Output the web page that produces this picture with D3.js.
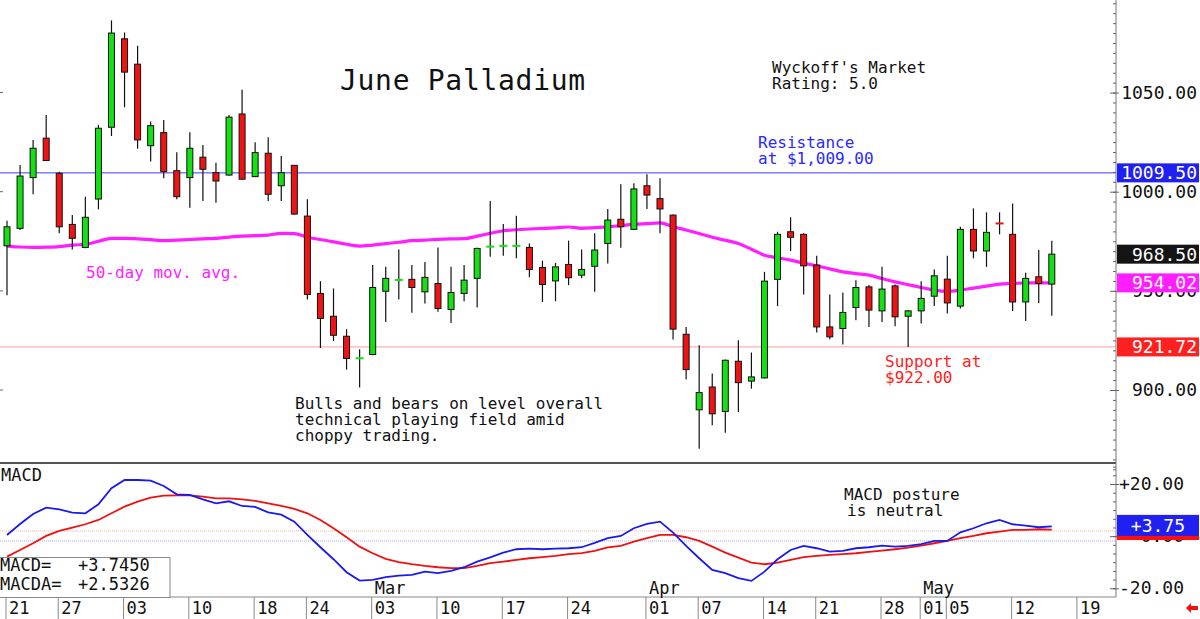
<!DOCTYPE html>
<html>
<head>
<meta charset="utf-8">
<script src="https://cdn.jsdelivr.net/npm/d3@7"></script>
<style>
    body { margin: 0; background: #fff; }
    text { font-family: "DejaVu Sans Mono", monospace; }
</style>
</head>
<body>
<div id="chart"></div>
<script>

// trading days shown on the chart
const dates = [
    "2025-01-21","2025-01-22","2025-01-23","2025-01-24","2025-01-27","2025-01-28","2025-01-29","2025-01-30","2025-01-31",
    "2025-02-03","2025-02-04","2025-02-05","2025-02-06","2025-02-07","2025-02-10","2025-02-11","2025-02-12","2025-02-13","2025-02-14",
    "2025-02-18","2025-02-19","2025-02-20","2025-02-21","2025-02-24","2025-02-25","2025-02-26","2025-02-27","2025-02-28",
    "2025-03-03","2025-03-04","2025-03-05","2025-03-06","2025-03-07","2025-03-10","2025-03-11","2025-03-12","2025-03-13","2025-03-14",
    "2025-03-17","2025-03-18","2025-03-19","2025-03-20","2025-03-21","2025-03-24","2025-03-25","2025-03-26","2025-03-27","2025-03-28",
    "2025-03-31","2025-04-01","2025-04-02","2025-04-03","2025-04-04","2025-04-07","2025-04-08","2025-04-09","2025-04-10","2025-04-11",
    "2025-04-14","2025-04-15","2025-04-16","2025-04-17","2025-04-21","2025-04-22","2025-04-23","2025-04-24","2025-04-25",
    "2025-04-28","2025-04-29","2025-04-30","2025-05-01","2025-05-02","2025-05-05","2025-05-06","2025-05-07","2025-05-08","2025-05-09",
    "2025-05-12","2025-05-13","2025-05-14","2025-05-15"
];
const futureDates = ["2025-05-16", "2025-05-19"];

const opens = [972.7,981.5,1007.1,1027.0,1009.3,983.5,971.9,996.3,1032.5,1077.1,1064.3,1023.2,1029.8,1010.6,1007.1,1017.4,1009.6,1008.4,1039.2,1007.6,
    1019.4,1003.0,1013.3,987.7,948.7,937.2,927.1,915.8,917.9,949.8,955.3,955.8,949.5,953.7,940.6,948.7,956.3,972.1,972.5,972.5,
    971.9,961.8,955.0,963.3,957.9,962.4,973.9,986.1,981.0,1003.0,996.5,988.2,928.1,890.0,901.5,889.2,914.5,904.5,906.1,955.8,
    979.8,978.5,963.0,931.8,931.0,941.6,952.0,939.9,952.5,937.2,939.9,947.3,955.9,942.3,981.0,970.1,984.2,978.5,944.4,957.1,953.4];
const highs = [985.4,1013.5,1026.1,1038.7,1010.1,988.2,997.5,1033.7,1086.4,1080.3,1073.6,1035.4,1036.2,1019.9,1030.0,1023.6,1014.6,1038.7,1051.4,1024.9,
    1027.5,1018.0,1013.5,996.2,954.9,951.2,930.7,920.6,963.0,962.1,970.9,963.0,964.6,971.9,962.1,963.0,971.7,995.3,983.7,987.9,
    973.9,965.2,964.1,975.3,970.9,979.0,991.3,1003.7,1004.2,1008.8,1006.8,988.5,931.8,922.6,908.3,915.4,925.1,918.9,959.6,979.8,
    987.1,979.0,967.7,948.2,949.2,955.4,952.9,962.1,953.2,940.3,954.9,960.8,967.7,982.3,991.6,989.6,989.6,994.1,959.1,970.6,975.3];
const lows = [947.8,980.7,998.7,1015.5,979.0,970.9,971.5,991.1,1028.1,1042.6,1021.6,1015.2,1006.8,996.2,991.9,995.3,994.4,1008.0,1006.0,1007.4,
    995.3,995.3,988.5,945.6,921.2,924.7,910.3,901.2,917.5,934.3,945.6,938.9,943.6,939.4,933.8,944.8,941.6,967.2,967.7,966.4,
    956.8,944.4,944.8,952.9,956.3,949.5,963.8,971.7,980.8,991.3,979.0,925.5,905.3,870.4,882.2,878.5,888.9,900.7,905.8,942.3,
    970.1,948.2,929.0,925.6,922.9,935.2,931.8,934.3,932.2,921.7,933.5,942.3,938.6,941.1,966.4,962.1,978.5,939.9,934.8,943.9,937.4];
const closes = [982.3,1007.9,1021.9,1015.7,982.3,976.5,987.1,1032.0,1080.0,1060.3,1026.1,1033.3,1010.1,997.5,1021.9,1011.3,1005.4,1037.6,1006.3,1019.7,
    998.7,1009.6,988.7,948.2,936.1,927.6,915.9,916.0,951.7,956.3,955.5,951.7,956.8,941.1,949.2,955.4,971.4,972.3,972.7,972.7,
    960.8,953.2,962.1,956.6,960.8,970.6,985.7,982.3,1001.4,998.3,991.3,930.7,910.3,898.7,888.0,915.0,903.7,906.6,954.9,978.5,
    977.0,962.6,931.8,926.8,939.1,951.7,940.3,950.9,936.9,939.9,946.2,957.6,943.9,981.0,970.1,979.5,984.0,944.4,956.3,953.7,968.5];

// 50-day moving average
const ma50 = [972.6,972.1,971.9,972.0,972.3,973.1,973.4,975.0,976.5,976.5,976.2,975.8,975.3,975.6,975.9,976.2,976.5,977.1,977.6,977.8,
    978.1,979.0,978.9,977.0,975.9,974.7,973.5,972.6,973.1,973.8,974.5,975.3,975.6,976.0,976.2,976.3,977.6,979.0,980.3,980.8,
    981.2,981.5,981.8,982.2,981.5,981.9,982.3,982.9,983.5,983.9,984.3,982.3,980.7,978.9,977.0,975.5,973.9,971.0,968.0,966.7,
    965.5,964.0,962.6,961.1,959.6,958.7,957.9,956.2,954.5,953.1,951.7,950.4,949.8,950.4,951.4,952.4,953.4,953.7,954.0,954.0,954.02];

const macd = [0.46,4.67,8.51,10.92,10.31,9.00,8.77,12.22,18.35,21.53,21.53,21.26,19.23,16.05,15.79,14.14,12.61,13.37,11.57,11.19,
    9.16,8.24,5.56,0.46,-4.25,-8.85,-13.83,-17.05,-16.78,-15.75,-15.13,-14.87,-13.60,-14.21,-13.33,-11.92,-9.77,-8.16,-6.32,-5.02,
    -4.79,-5.02,-4.79,-4.64,-4.25,-2.61,-0.80,0.08,3.03,4.67,5.56,1.34,-3.75,-8.47,-12.95,-14.21,-16.13,-17.16,-13.60,-8.85,
    -5.29,-3.75,-4.64,-5.94,-5.67,-4.64,-4.25,-3.64,-4.02,-3.75,-3.10,-1.84,-1.84,1.49,3.03,4.94,6.21,4.56,4.02,3.41,3.745];
const macdSignal = [-7.85,-5.29,-2.72,0.08,1.99,3.26,4.56,6.21,8.77,11.30,13.22,14.75,15.52,15.67,15.67,15.13,14.52,14.52,14.14,13.49,
    12.61,11.57,10.42,8.77,6.21,3.03,-0.42,-4.02,-6.55,-8.74,-10.00,-10.77,-11.42,-11.92,-12.30,-12.30,-11.42,-10.38,-9.77,-9.12,
    -8.47,-8.08,-7.59,-6.93,-6.55,-5.67,-4.33,-3.75,-2.11,-0.80,0.46,0.46,-0.42,-1.84,-4.02,-6.32,-8.24,-10.15,-10.77,-10.15,
    -9.12,-8.08,-7.59,-7.20,-6.93,-6.55,-6.05,-5.56,-5.02,-4.41,-3.64,-2.72,-1.84,-0.80,0.08,1.11,1.72,2.38,2.38,2.64,2.5326];

const tickDates = ["2025-01-21","2025-01-27","2025-02-03","2025-02-10","2025-02-18","2025-02-24","2025-03-03","2025-03-10","2025-03-17",
    "2025-03-24","2025-04-01","2025-04-07","2025-04-14","2025-04-21","2025-04-28","2025-05-01","2025-05-05","2025-05-12","2025-05-19"];
const monthDates = ["2025-03-03","2025-04-01","2025-05-01"];
const monthNames = ["Mar","Apr","May"];

const priceTicks = [900, 950, 1000, 1050];
const macdTicks = [-20, 0, 20];

const resistance = 1009.5;
const support = 921.72;
const macdRefLines = [2.0, -1.84];

const W = 1200, H = 619;
const plotRight = 1116;
const panelSplit = 463, macdBottom = 597;

const svg = d3.select("#chart").append("svg")
    .attr("width", W).attr("height", H)
    .style("display", "block");

svg.append("rect").attr("width", W).attr("height", H).attr("fill", "#fff");

const x = d3.scalePoint()
    .domain(dates.concat(futureDates))
    .range([7, 7 + 82 * 13.06]);

const y = d3.scaleLinear().domain([900, 1000]).range([390, 191.7]);
const ym = d3.scaleLinear().domain([-20, 20]).range([588.3, 484]);

const candles = dates.map((d, i) => ({date: d, o: opens[i], h: highs[i], l: lows[i], c: closes[i]}));

svg.append("clipPath").attr("id", "clipTop")
    .append("rect").attr("x", 0).attr("y", 0).attr("width", plotRight).attr("height", panelSplit);
svg.append("clipPath").attr("id", "clipMacd")
    .append("rect").attr("x", 0).attr("y", panelSplit + 1).attr("width", plotRight).attr("height", macdBottom - panelSplit - 1);

const priceG = svg.append("g").attr("clip-path", "url(#clipTop)");

// resistance / support lines
priceG.append("line")
    .attr("x1", 0).attr("x2", plotRight)
    .attr("y1", y(resistance)).attr("y2", y(resistance))
    .attr("stroke", "#3c3cff").attr("stroke-width", 1);
priceG.append("line")
    .attr("x1", 0).attr("x2", plotRight)
    .attr("y1", y(support)).attr("y2", y(support))
    .attr("stroke", "#ffb0b0").attr("stroke-width", 1.2);

// left edge ticks
svg.selectAll(".leftTick").data(priceTicks).join("line")
    .attr("class", "leftTick")
    .attr("x1", 0).attr("x2", 3)
    .attr("y1", d => y(d)).attr("y2", d => y(d))
    .attr("stroke", "#666");

// 50 day moving average
priceG.append("path")
    .datum(ma50)
    .attr("fill", "none")
    .attr("stroke", "#ff1eff")
    .attr("stroke-width", 3.2)
    .attr("d", d3.line().x((d, i) => x(dates[i])).y(d => y(d)).curve(d3.curveMonotoneX));

// candlesticks
const cg = priceG.selectAll(".candle").data(candles).join("g").attr("class", "candle");

cg.append("line")
    .attr("x1", d => x(d.date)).attr("x2", d => x(d.date))
    .attr("y1", d => y(d.h)).attr("y2", d => y(d.l))
    .attr("stroke", "#111").attr("stroke-width", 1.2);

cg.filter(d => Math.abs(d.c - d.o) >= 0.5).append("rect")
    .attr("x", d => x(d.date) - 3)
    .attr("width", 6)
    .attr("y", d => y(Math.max(d.o, d.c)))
    .attr("height", d => Math.max(1, y(Math.min(d.o, d.c)) - y(Math.max(d.o, d.c))))
    .attr("fill", d => d.c > d.o ? "#14e014" : "#ee1414")
    .attr("stroke", "#111").attr("stroke-width", 1);

cg.filter(d => Math.abs(d.c - d.o) < 0.5).append("line")
    .attr("x1", d => x(d.date) - 4).attr("x2", d => x(d.date) + 4)
    .attr("y1", d => y(d.c)).attr("y2", d => y(d.c))
    .attr("stroke", d => d.c >= d.o ? "#14e014" : "#ee1414")
    .attr("stroke-width", 2);

// MACD panel
const mg = svg.append("g").attr("clip-path", "url(#clipMacd)");

mg.selectAll(".refLine").data(macdRefLines).join("line")
    .attr("class", "refLine")
    .attr("x1", 0).attr("x2", plotRight)
    .attr("y1", d => ym(d)).attr("y2", d => ym(d))
    .attr("stroke", (d, i) => i == 0 ? "#ffaaaa" : "#aaaaff")
    .attr("stroke-width", 1)
    .attr("stroke-dasharray", "1,1");

const mline = d3.line().x((d, i) => x(dates[i])).y(d => ym(d));
mg.append("path").datum(macdSignal)
    .attr("fill", "none").attr("stroke", "#ee1111").attr("stroke-width", 1.8)
    .attr("d", mline);
mg.append("path").datum(macd)
    .attr("fill", "none").attr("stroke", "#1a1aee").attr("stroke-width", 1.8)
    .attr("d", mline);

// frame lines
svg.append("line")
    .attr("x1", 0).attr("x2", plotRight)
    .attr("y1", panelSplit).attr("y2", panelSplit)
    .attr("stroke", "#555").attr("stroke-width", 2);
svg.append("line")
    .attr("x1", plotRight).attr("x2", plotRight)
    .attr("y1", 0).attr("y2", macdBottom)
    .attr("stroke", "#777").attr("stroke-width", 1);
svg.append("line")
    .attr("x1", 0).attr("x2", plotRight)
    .attr("y1", macdBottom).attr("y2", macdBottom)
    .attr("stroke", "#888").attr("stroke-width", 1);

// right price axis ticks
const priceAxis = svg.append("g").attr("transform", "translate(" + plotRight + ",0)");
priceAxis.call(d3.axisRight(y).tickValues(d3.range(860, 1100, 5)).tickSize(-3).tickFormat(""));
priceAxis.call(g => g.select(".domain").remove());
priceAxis.selectAll("line").attr("stroke", "#666");
svg.append("g").attr("transform", "translate(" + plotRight + ",0)")
    .call(d3.axisRight(y).tickValues(priceTicks).tickSize(3).tickFormat(""))
    .call(g => g.select(".domain").remove())
    .selectAll("line").attr("stroke", "#666").attr("x1", -6);

svg.selectAll(".priceLabel").data(priceTicks).join("text")
    .attr("class", "priceLabel")
    .attr("x", 1197).attr("y", d => y(d) + 6)
    .attr("text-anchor", "end")
    .attr("font-size", 18)
    .attr("fill", "#111")
    .text(d => d3.format(".2f")(d));

// MACD axis ticks
const macdAxis = svg.append("g").attr("transform", "translate(" + plotRight + ",0)");
macdAxis.call(d3.axisRight(ym).tickValues(d3.range(-20, 27, 20 / 6)).tickSize(-3).tickFormat(""));
macdAxis.call(g => g.select(".domain").remove());
macdAxis.selectAll("line").attr("stroke", "#666");
svg.append("g").attr("transform", "translate(" + plotRight + ",0)")
    .call(d3.axisRight(ym).tickValues(macdTicks).tickSize(3).tickFormat(""))
    .call(g => g.select(".domain").remove())
    .selectAll("line").attr("stroke", "#666").attr("x1", -6);

svg.selectAll(".macdLabel").data(macdTicks).join("text")
    .attr("class", "macdLabel")
    .attr("x", 1184).attr("y", d => ym(d) + 6)
    .attr("text-anchor", "end")
    .attr("font-size", 18)
    .attr("fill", "#111")
    .text(d => (d > 0 ? "+" : d < 0 ? "-" : "") + d3.format(".2f")(Math.abs(d)));

// value tags on the right axis
function tag(yPos, bg, txt, xEnd, h) {
    svg.append("rect")
        .attr("x", plotRight + 1).attr("y", yPos - h / 2)
        .attr("width", W - plotRight - 2).attr("height", h)
        .attr("fill", bg);
    if (txt) {
        svg.append("text")
            .attr("x", xEnd).attr("y", yPos + 6.5)
            .attr("text-anchor", "end")
            .attr("font-size", 18)
            .attr("fill", "#fff")
            .text(txt);
    }
}
tag(y(resistance), "#2020f0", d3.format(".2f")(resistance), 1197, 19);
tag(y(closes[closes.length - 1]), "#141414", d3.format(".2f")(closes[closes.length - 1]), 1197, 19);
tag(y(ma50[ma50.length - 1]), "#ff1eff", d3.format(".2f")(ma50[ma50.length - 1]), 1197, 19);
tag(y(support), "#ff2020", d3.format(".2f")(support), 1197, 19);
tag(ym(macdSignal[macdSignal.length - 1]), "#ff1010", null, 1184, 21);
tag(ym(macd[macd.length - 1]) - 1, "#2020f0", "+" + d3.format(".2f")(macd[macd.length - 1]), 1185, 21);

// date axis
svg.selectAll(".dateSep").data(tickDates).join("line")
    .attr("class", "dateSep")
    .attr("x1", d => x(d) - 1).attr("x2", d => x(d) - 1)
    .attr("y1", macdBottom).attr("y2", H)
    .attr("stroke", "#888");
svg.selectAll(".dateLabel").data(tickDates).join("text")
    .attr("class", "dateLabel")
    .attr("x", d => x(d) + 2).attr("y", 614)
    .attr("font-size", 17)
    .attr("fill", "#111")
    .text(d => d.slice(8));
svg.selectAll(".monthLabel").data(monthDates).join("text")
    .attr("class", "monthLabel")
    .attr("x", d => x(d) + 2).attr("y", 594)
    .attr("font-size", 17)
    .attr("fill", "#111")
    .text((d, i) => monthNames[i]);

// little red arrow at bottom right
svg.append("path")
    .attr("d", "M1186,608 L1191,603 L1191,606 L1198,606 L1198,610 L1191,610 L1191,613 Z")
    .attr("fill", "#ee1111");

// texts
function lines(xp, yp, arr, color, size, step) {
    arr.forEach((t, i) => {
        svg.append("text")
            .attr("x", xp).attr("y", yp + i * step)
            .attr("font-size", size)
            .attr("fill", color)
            .style("white-space", "pre")
            .text(t);
    });
}
svg.append("text")
    .attr("x", 340).attr("y", 90)
    .attr("font-size", 28)
    .attr("letter-spacing", 0.7)
    .attr("fill", "#111")
    .text("June Palladium");
lines(772, 73, ["Wyckoff's Market", "Rating: 5.0"], "#111", 16, 16);
lines(758, 148, ["Resistance", "at $1,009.00"], "#2a2aff", 16, 16);
lines(86, 278, ["50-day mov. avg."], "#ff1eff", 16, 16);
lines(295, 409, ["Bulls and bears on level overall", "technical playing field amid", "choppy trading."], "#111", 16, 16);
lines(885, 367, ["Support at", "$922.00"], "#ff2020", 16, 16);
lines(844, 500, ["MACD posture"], "#111", 16, 16);
lines(847, 516, ["is neutral"], "#111", 16, 16);
lines(1, 481, ["MACD"], "#111", 17, 17);

// MACD legend box
svg.append("rect")
    .attr("x", -1).attr("y", 557.5)
    .attr("width", 171).attr("height", 40)
    .attr("fill", "#fff").attr("stroke", "#888");
lines(0, 571, ["MACD=", "MACDA="], "#111", 17, 19);
lines(78, 571, ["+" + d3.format(".4f")(macd[macd.length - 1]), "+" + d3.format(".4f")(macdSignal[macdSignal.length - 1])], "#111", 17, 19);

</script>
</body>
</html>
